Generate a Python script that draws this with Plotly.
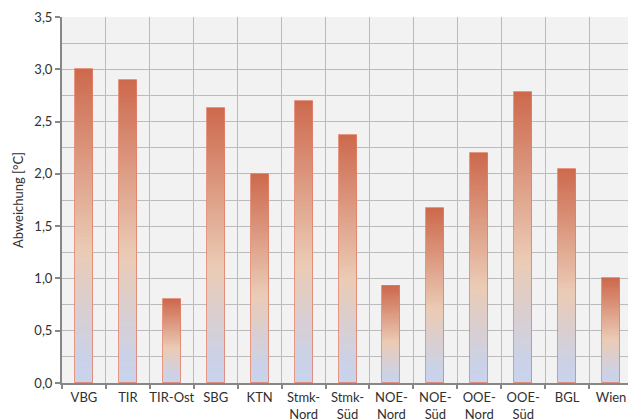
import plotly.graph_objects as go

# Regions and their temperature deviation in °C
regions = ["VBG", "TIR", "TIR-Ost", "SBG", "KTN", "Stmk-<br>Nord", "Stmk-<br>Süd",
           "NOE-<br>Nord", "NOE-<br>Süd", "OOE-<br>Nord", "OOE-<br>Süd", "BGL", "Wien"]
deviation = [3.00, 2.90, 0.80, 2.63, 2.00, 2.70, 2.37, 0.93, 1.67, 2.20, 2.78, 2.05, 1.00]

# Vertical gradient for every bar: (position from bottom, rgb)
gradient_stops = [
    (0.00, (201, 211, 236)),
    (0.08, (203, 210, 232)),
    (0.42, (235, 203, 181)),
    (1.00, (205, 105, 77)),
]


def gradient_color(t):
    for (p0, c0), (p1, c1) in zip(gradient_stops[:-1], gradient_stops[1:]):
        if t <= p1:
            f = (t - p0) / (p1 - p0)
            r, g, b = (round(a + (b_ - a) * f) for a, b_ in zip(c0, c1))
            return f"rgb({r},{g},{b})"
    r, g, b = gradient_stops[-1][1]
    return f"rgb({r},{g},{b})"


BAR_WIDTH = 0.41
N_SLICES = 90

fig = go.Figure()

# Each bar is filled by stacking thin slices whose colour follows the gradient
for k in range(N_SLICES):
    t = (k + 0.5) / N_SLICES
    fig.add_trace(go.Bar(
        x=regions,
        y=[v / N_SLICES * 1.35 if k < N_SLICES - 1 else v / N_SLICES for v in deviation],
        base=[v * k / N_SLICES for v in deviation],
        width=BAR_WIDTH,
        marker=dict(color=gradient_color(t), line=dict(width=0)),
        hoverinfo="skip",
        showlegend=False,
    ))

# Thin outline around each bar
fig.add_trace(go.Bar(
    x=regions,
    y=deviation,
    width=BAR_WIDTH,
    marker=dict(color="rgba(0,0,0,0)", line=dict(color="rgba(226,128,104,0.8)", width=1)),
    hovertemplate="%{x}: %{y:.2f} °C<extra></extra>",
    showlegend=False,
))

font_family = "Lato, 'Open Sans', sans-serif"
label_color = "#303030"
grid_color = "#BBBBBB"
axis_color = "#878787"

fig.update_layout(
    width=628,
    height=420,
    margin=dict(l=62, r=0, t=17, b=37),
    paper_bgcolor="white",
    plot_bgcolor="#F2F2F2",
    barmode="overlay",
    bargap=0,
    separators=",.",
    font=dict(family=font_family, size=13, color=label_color),
    xaxis=dict(
        type="category",
        range=[-0.5, 12.386],
        tickson="boundaries",
        tickangle=0,
        automargin=False,
        showgrid=True,
        gridcolor=grid_color,
        gridwidth=1,
        showline=True,
        linecolor=axis_color,
        linewidth=2,
        ticks="outside",
        ticklen=4,
        tickcolor=axis_color,
        tickwidth=2,
        ticklabelstandoff=1,
        tickfont=dict(size=13, color=label_color),
        fixedrange=True,
    ),
    yaxis=dict(
        range=[0, 3.5],
        dtick=0.5,
        tickformat=".1f",
        automargin=False,
        showgrid=True,
        gridcolor=grid_color,
        gridwidth=1,
        minor=dict(dtick=0.25, showgrid=True, gridcolor=grid_color, gridwidth=1),
        showline=True,
        linecolor=axis_color,
        linewidth=2,
        ticks="outside",
        ticklen=5,
        tickcolor=axis_color,
        tickwidth=2,
        tickfont=dict(size=13, color=label_color),
        zeroline=False,
        title=dict(text="Abweichung [°C]", font=dict(size=13, color=label_color), standoff=8),
        fixedrange=True,
    ),
)

fig.write_html("out.html")
